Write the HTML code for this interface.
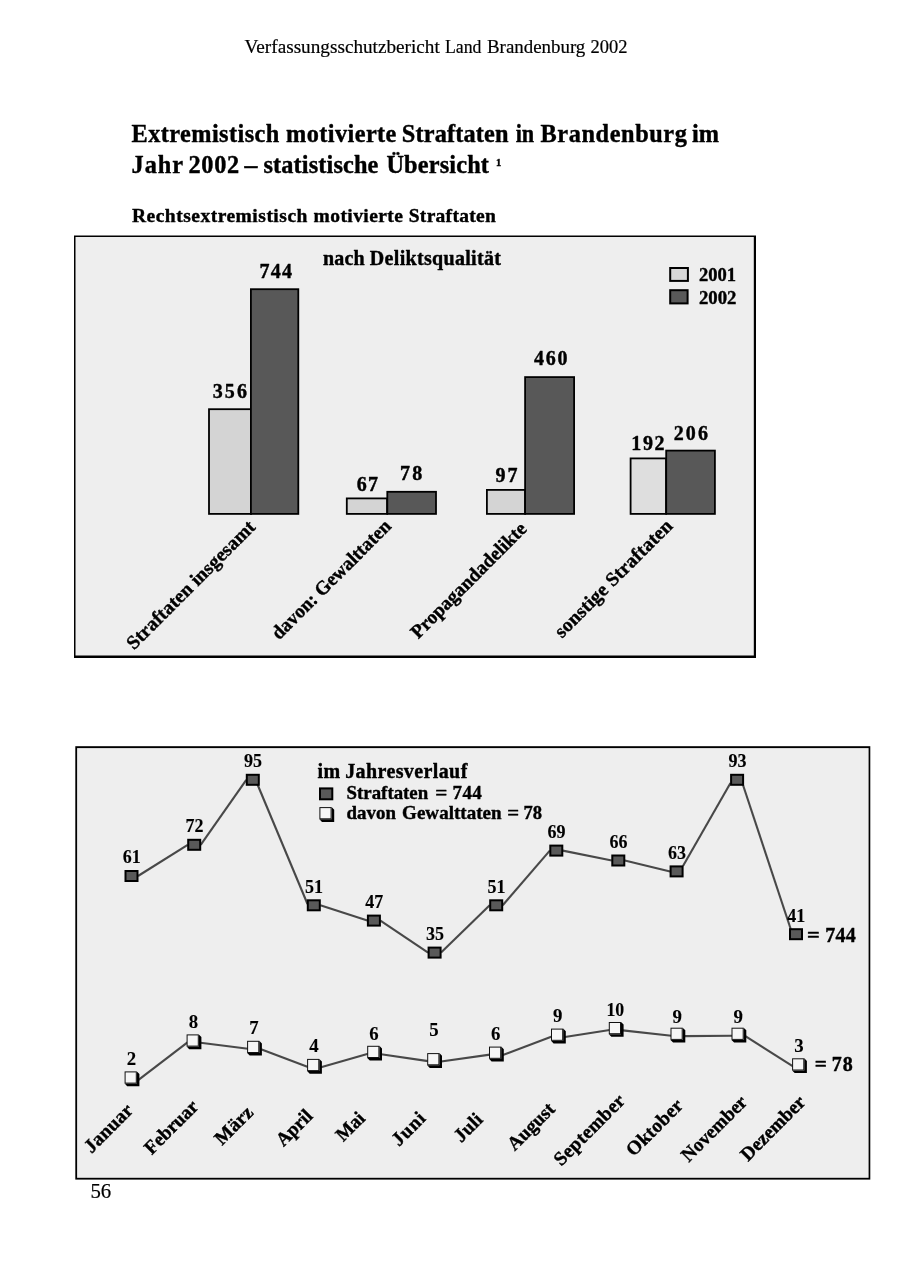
<!DOCTYPE html>
<html lang="de"><head><meta charset="utf-8"><title>Verfassungsschutzbericht Land Brandenburg 2002</title>
<style>html,body{margin:0;padding:0;background:#fff}body{width:900px;height:1272px;overflow:hidden}svg{display:block}text{font-family:"Liberation Serif",serif;fill:#000;stroke:#000;stroke-width:.2px}.b{font-weight:bold;stroke:#000;stroke-width:.4px;stroke-linejoin:round}.s{font-weight:bold;stroke:#000;stroke-width:.12px}</style>
</head><body>
<svg width="900" height="1272" viewBox="0 0 900 1272">
<rect width="900" height="1272" fill="#fff"/>
<text x="244.6" y="53" font-size="19.4" textLength="195.2" lengthAdjust="spacingAndGlyphs">Verfassungsschutzbericht</text>
<text x="445.0" y="53" font-size="19.4" textLength="36.5" lengthAdjust="spacingAndGlyphs">Land</text>
<text x="487.0" y="53" font-size="19.4" textLength="98.3" lengthAdjust="spacingAndGlyphs">Brandenburg</text>
<text x="590.6" y="53" font-size="19.4" textLength="37.0" lengthAdjust="spacingAndGlyphs">2002</text>
<text class="b" x="131.5" y="141.5" font-size="24.3" textLength="147.8" lengthAdjust="spacing">Extremistisch</text>
<text class="b" x="286.0" y="141.5" font-size="24.3" textLength="110.4" lengthAdjust="spacing">motivierte</text>
<text class="b" x="401.8" y="141.5" font-size="24.3" textLength="106.6" lengthAdjust="spacing">Straftaten</text>
<text class="b" x="515.7" y="141.5" font-size="24.3" textLength="18.5" lengthAdjust="spacingAndGlyphs">in</text>
<text class="b" x="540.5" y="141.5" font-size="24.3" textLength="146.4" lengthAdjust="spacing">Brandenburg</text>
<text class="b" x="692.0" y="141.5" font-size="24.3" textLength="27.1" lengthAdjust="spacing">im</text>
<text class="b" x="131.6" y="172.5" font-size="24.3" textLength="51.4" lengthAdjust="spacing">Jahr</text>
<text class="b" x="188.4" y="172.5" font-size="24.3" textLength="50.8" lengthAdjust="spacing">2002</text>
<text class="b" x="244.5" y="172.5" font-size="24.3" textLength="12.9" lengthAdjust="spacingAndGlyphs">–</text>
<text class="b" x="263.4" y="172.5" font-size="24.3" textLength="115.0" lengthAdjust="spacing">statistische</text>
<text class="b" x="386.4" y="172.5" font-size="24.3" textLength="102.5" lengthAdjust="spacing">Übersicht</text>
<text class="b" x="496" y="166" font-size="10.5">1</text>
<text class="b" x="131.9" y="221.5" font-size="19.5" textLength="175.5" lengthAdjust="spacing">Rechtsextremistisch</text>
<text class="b" x="313.6" y="221.5" font-size="19.5" textLength="89.3" lengthAdjust="spacing">motivierte</text>
<text class="b" x="408.7" y="221.5" font-size="19.5" textLength="87.1" lengthAdjust="spacing">Straftaten</text>
<rect x="74" y="235.5" width="682" height="422.5" fill="#000"/>
<rect x="75.5" y="237" width="678.3" height="418.5" fill="#eeeeee"/>
<text class="b" x="323.1" y="264.5" font-size="20" textLength="41.5" lengthAdjust="spacing">nach</text>
<text class="b" x="369.8" y="264.5" font-size="20" textLength="131.1" lengthAdjust="spacing">Deliktsqualität</text>
<rect x="209.00" y="409.20" width="42.10" height="104.70" fill="#d4d4d4" stroke="#000" stroke-width="1.8"/>
<rect x="250.90" y="289.20" width="47.40" height="224.70" fill="#585858" stroke="#000" stroke-width="1.8"/>
<rect x="346.80" y="498.40" width="40.30" height="15.50" fill="#d4d4d4" stroke="#000" stroke-width="1.8"/>
<rect x="387.30" y="491.80" width="48.70" height="22.10" fill="#585858" stroke="#000" stroke-width="1.8"/>
<rect x="486.90" y="489.90" width="38.20" height="24.00" fill="#d4d4d4" stroke="#000" stroke-width="1.8"/>
<rect x="525.10" y="377.10" width="49.00" height="136.80" fill="#585858" stroke="#000" stroke-width="1.8"/>
<rect x="630.60" y="458.40" width="35.50" height="55.50" fill="#dedede" stroke="#000" stroke-width="1.8"/>
<rect x="666.20" y="450.60" width="48.70" height="63.30" fill="#585858" stroke="#000" stroke-width="1.8"/>
<text class="b" x="212.7" y="398.2" font-size="20" textLength="34.3" lengthAdjust="spacing">356</text>
<text class="b" x="259.6" y="278" font-size="20" textLength="32.4" lengthAdjust="spacing">744</text>
<text class="b" x="356.8" y="490.9" font-size="20" textLength="21.3" lengthAdjust="spacing">67</text>
<text class="b" x="400.0" y="479.7" font-size="20" textLength="22.2" lengthAdjust="spacing">78</text>
<text class="b" x="495.6" y="481.5" font-size="20" textLength="22.0" lengthAdjust="spacing">97</text>
<text class="b" x="534.1" y="365.2" font-size="20" textLength="33.5" lengthAdjust="spacing">460</text>
<text class="b" x="631.3000000000001" y="449.7" font-size="20" textLength="33.3" lengthAdjust="spacing">192</text>
<text class="b" x="673.8000000000001" y="440" font-size="20" textLength="34.1" lengthAdjust="spacing">206</text>
<rect x="670.2" y="268" width="17.7" height="12.9" fill="#d8d8d8" stroke="#000" stroke-width="2"/>
<rect x="670.2" y="290.2" width="17.4" height="13.2" fill="#595959" stroke="#000" stroke-width="2"/>
<text class="b" x="698.9" y="281.4" font-size="19.3" textLength="37.1" lengthAdjust="spacingAndGlyphs">2001</text>
<text class="b" x="698.9" y="303.9" font-size="19.3" textLength="37.5" lengthAdjust="spacingAndGlyphs">2002</text>
<text class="b" font-size="19.5" textLength="173" lengthAdjust="spacing" transform="translate(134,650.5) rotate(-45)">Straftaten insgesamt</text>
<text class="b" font-size="19.5" textLength="160" lengthAdjust="spacingAndGlyphs" transform="translate(279.1,640.5) rotate(-45)">davon: Gewalttaten</text>
<text class="b" font-size="19.5" textLength="155.1" lengthAdjust="spacingAndGlyphs" transform="translate(418.2,639.6) rotate(-45)">Propagandadelikte</text>
<text class="b" font-size="19.5" textLength="158" lengthAdjust="spacing" transform="translate(562,638.7) rotate(-45)">sonstige Straftaten</text>
<rect x="75.3" y="746.2" width="795" height="433.4" fill="#000"/>
<rect x="77.1" y="748.1" width="791.5" height="429.7" fill="#eeeeee"/>
<line x1="138.0" y1="876" x2="187.7" y2="844.8" stroke="#484848" stroke-width="2.1"/>
<line x1="200.7" y1="844.8" x2="246.3" y2="779.8" stroke="#484848" stroke-width="2.1"/>
<line x1="257.3" y1="784" x2="307.5" y2="904" stroke="#484848" stroke-width="2.1"/>
<line x1="320.3" y1="905.3" x2="367.4" y2="920.6" stroke="#484848" stroke-width="2.1"/>
<line x1="380.4" y1="920.6" x2="428.1" y2="952.6" stroke="#484848" stroke-width="2.1"/>
<line x1="441.1" y1="952.6" x2="489.7" y2="905.3" stroke="#484848" stroke-width="2.1"/>
<line x1="502.7" y1="905.3" x2="549.8" y2="850.6" stroke="#484848" stroke-width="2.1"/>
<line x1="562.8" y1="850.6" x2="611.8" y2="860.5" stroke="#484848" stroke-width="2.1"/>
<line x1="624.8" y1="860.5" x2="670.1" y2="871.4" stroke="#484848" stroke-width="2.1"/>
<line x1="683" y1="866" x2="730.5" y2="783" stroke="#484848" stroke-width="2.1"/>
<line x1="743" y1="785" x2="790.7" y2="929" stroke="#484848" stroke-width="2.1"/>
<rect x="125.5" y="871.0" width="12" height="10" fill="#595959" stroke="#000" stroke-width="2"/>
<text class="s" x="122.8" y="863.3" font-size="19" textLength="18.0" lengthAdjust="spacingAndGlyphs">61</text>
<rect x="188.2" y="839.8" width="12" height="10" fill="#595959" stroke="#000" stroke-width="2"/>
<text class="s" x="185.5" y="832.1" font-size="19" textLength="18.0" lengthAdjust="spacingAndGlyphs">72</text>
<rect x="246.8" y="774.8" width="12" height="10" fill="#595959" stroke="#000" stroke-width="2"/>
<text class="s" x="244.1" y="767.1" font-size="19" textLength="18.0" lengthAdjust="spacingAndGlyphs">95</text>
<rect x="307.8" y="900.3" width="12" height="10" fill="#595959" stroke="#000" stroke-width="2"/>
<text class="s" x="305.1" y="892.6" font-size="19" textLength="18.0" lengthAdjust="spacingAndGlyphs">51</text>
<rect x="367.9" y="915.6" width="12" height="10" fill="#595959" stroke="#000" stroke-width="2"/>
<text class="s" x="365.2" y="907.9" font-size="19" textLength="18.0" lengthAdjust="spacingAndGlyphs">47</text>
<rect x="428.6" y="947.6" width="12" height="10" fill="#595959" stroke="#000" stroke-width="2"/>
<text class="s" x="425.9" y="939.9" font-size="19" textLength="18.0" lengthAdjust="spacingAndGlyphs">35</text>
<rect x="490.2" y="900.3" width="12" height="10" fill="#595959" stroke="#000" stroke-width="2"/>
<text class="s" x="487.5" y="892.6" font-size="19" textLength="18.0" lengthAdjust="spacingAndGlyphs">51</text>
<rect x="550.3" y="845.6" width="12" height="10" fill="#595959" stroke="#000" stroke-width="2"/>
<text class="s" x="547.6" y="837.9" font-size="19" textLength="18.0" lengthAdjust="spacingAndGlyphs">69</text>
<rect x="612.3" y="855.5" width="12" height="10" fill="#595959" stroke="#000" stroke-width="2"/>
<text class="s" x="609.6" y="847.8" font-size="19" textLength="18.0" lengthAdjust="spacingAndGlyphs">66</text>
<rect x="670.6" y="866.4" width="12" height="10" fill="#595959" stroke="#000" stroke-width="2"/>
<text class="s" x="667.9" y="858.7" font-size="19" textLength="18.0" lengthAdjust="spacingAndGlyphs">63</text>
<rect x="731.1" y="774.8" width="12" height="10" fill="#595959" stroke="#000" stroke-width="2"/>
<text class="s" x="728.4" y="767.1" font-size="19" textLength="18.0" lengthAdjust="spacingAndGlyphs">93</text>
<rect x="790.0" y="929.2" width="12" height="10" fill="#595959" stroke="#000" stroke-width="2"/>
<text class="s" x="787.3" y="921.5" font-size="19" textLength="18.0" lengthAdjust="spacingAndGlyphs">41</text>
<text class="b" x="807.0" y="942" font-size="20" textLength="12.8" lengthAdjust="spacingAndGlyphs">=</text>
<text class="b" x="825.2" y="942" font-size="20" textLength="30.5" lengthAdjust="spacing">744</text>
<line x1="138.5" y1="1079.8" x2="187.5" y2="1042.3999999999999" stroke="#484848" stroke-width="2.1"/>
<line x1="200.5" y1="1042.8" x2="248.0" y2="1048.8" stroke="#484848" stroke-width="2.1"/>
<line x1="261.0" y1="1049.2" x2="308.0" y2="1066.8999999999999" stroke="#484848" stroke-width="2.1"/>
<line x1="321.0" y1="1067.3" x2="368.1" y2="1053.8" stroke="#484848" stroke-width="2.1"/>
<line x1="381.1" y1="1054.2" x2="428.1" y2="1061.1" stroke="#484848" stroke-width="2.1"/>
<line x1="441.1" y1="1061.5" x2="489.9" y2="1054.6" stroke="#484848" stroke-width="2.1"/>
<line x1="502.9" y1="1055.0" x2="551.9" y2="1036.6" stroke="#484848" stroke-width="2.1"/>
<line x1="564.9" y1="1037.0" x2="609.7" y2="1030.0" stroke="#484848" stroke-width="2.1"/>
<line x1="622.7" y1="1030.4" x2="671.4" y2="1035.6999999999998" stroke="#484848" stroke-width="2.1"/>
<line x1="684.4" y1="1036.1" x2="732.4" y2="1035.6999999999998" stroke="#484848" stroke-width="2.1"/>
<line x1="745.4" y1="1036.1" x2="793.0" y2="1066.3" stroke="#484848" stroke-width="2.1"/>
<polygon points="136.8,1071.4 139.4,1074.0 139.4,1086.2 127.2,1086.2 124.6,1083.6 136.8,1083.6" fill="#000"/>
<rect x="125.1" y="1071.9" width="11.2" height="11.2" fill="#f6f6f6" stroke="#111" stroke-width="1"/>
<text class="s" x="126.7" y="1064.5" font-size="19" textLength="9.4" lengthAdjust="spacingAndGlyphs">2</text>
<polygon points="198.8,1034.4 201.4,1037.0 201.4,1049.2 189.2,1049.2 186.6,1046.6 198.8,1046.6" fill="#000"/>
<rect x="187.1" y="1034.9" width="11.2" height="11.2" fill="#f6f6f6" stroke="#111" stroke-width="1"/>
<text class="s" x="188.7" y="1028.0" font-size="19" textLength="9.4" lengthAdjust="spacingAndGlyphs">8</text>
<polygon points="259.3,1040.8 261.9,1043.4 261.9,1055.6 249.7,1055.6 247.1,1053.0 259.3,1053.0" fill="#000"/>
<rect x="247.6" y="1041.3" width="11.2" height="11.2" fill="#f6f6f6" stroke="#111" stroke-width="1"/>
<text class="s" x="249.2" y="1034.0" font-size="19" textLength="9.4" lengthAdjust="spacingAndGlyphs">7</text>
<polygon points="319.3,1058.9 321.9,1061.5 321.9,1073.7 309.7,1073.7 307.1,1071.1 319.3,1071.1" fill="#000"/>
<rect x="307.6" y="1059.4" width="11.2" height="11.2" fill="#f6f6f6" stroke="#111" stroke-width="1"/>
<text class="s" x="309.2" y="1052.0" font-size="19" textLength="9.4" lengthAdjust="spacingAndGlyphs">4</text>
<polygon points="379.4,1045.8 382.0,1048.4 382.0,1060.6 369.8,1060.6 367.2,1058.0 379.4,1058.0" fill="#000"/>
<rect x="367.7" y="1046.3" width="11.2" height="11.2" fill="#f6f6f6" stroke="#111" stroke-width="1"/>
<text class="s" x="369.3" y="1039.6" font-size="19" textLength="9.4" lengthAdjust="spacingAndGlyphs">6</text>
<polygon points="439.4,1053.1 442.0,1055.7 442.0,1067.9 429.8,1067.9 427.2,1065.3 439.4,1065.3" fill="#000"/>
<rect x="427.7" y="1053.6" width="11.2" height="11.2" fill="#f6f6f6" stroke="#111" stroke-width="1"/>
<text class="s" x="429.3" y="1035.6" font-size="19" textLength="9.4" lengthAdjust="spacingAndGlyphs">5</text>
<polygon points="501.2,1046.6 503.8,1049.2 503.8,1061.4 491.6,1061.4 489.0,1058.8 501.2,1058.8" fill="#000"/>
<rect x="489.5" y="1047.1" width="11.2" height="11.2" fill="#f6f6f6" stroke="#111" stroke-width="1"/>
<text class="s" x="491.1" y="1040" font-size="19" textLength="9.4" lengthAdjust="spacingAndGlyphs">6</text>
<polygon points="563.2,1028.6 565.8,1031.2 565.8,1043.4 553.6,1043.4 551.0,1040.8 563.2,1040.8" fill="#000"/>
<rect x="551.5" y="1029.1" width="11.2" height="11.2" fill="#f6f6f6" stroke="#111" stroke-width="1"/>
<text class="s" x="553.1" y="1022.4" font-size="19" textLength="9.4" lengthAdjust="spacingAndGlyphs">9</text>
<polygon points="621.0,1022.0 623.6,1024.6 623.6,1036.8 611.4,1036.8 608.8,1034.2 621.0,1034.2" fill="#000"/>
<rect x="609.3" y="1022.5" width="11.2" height="11.2" fill="#f6f6f6" stroke="#111" stroke-width="1"/>
<text class="s" x="606.4" y="1016.0" font-size="19" textLength="17.8" lengthAdjust="spacingAndGlyphs">10</text>
<polygon points="682.7,1027.7 685.3,1030.3 685.3,1042.5 673.1,1042.5 670.5,1039.9 682.7,1039.9" fill="#000"/>
<rect x="671.0" y="1028.2" width="11.2" height="11.2" fill="#f6f6f6" stroke="#111" stroke-width="1"/>
<text class="s" x="672.6" y="1023.1" font-size="19" textLength="9.4" lengthAdjust="spacingAndGlyphs">9</text>
<polygon points="743.7,1027.7 746.3,1030.3 746.3,1042.5 734.1,1042.5 731.5,1039.9 743.7,1039.9" fill="#000"/>
<rect x="732.0" y="1028.2" width="11.2" height="11.2" fill="#f6f6f6" stroke="#111" stroke-width="1"/>
<text class="s" x="733.6" y="1023.1" font-size="19" textLength="9.4" lengthAdjust="spacingAndGlyphs">9</text>
<polygon points="804.3,1058.3 806.9,1060.9 806.9,1073.1 794.7,1073.1 792.1,1070.5 804.3,1070.5" fill="#000"/>
<rect x="792.6" y="1058.8" width="11.2" height="11.2" fill="#f6f6f6" stroke="#111" stroke-width="1"/>
<text class="s" x="794.2" y="1052.1" font-size="19" textLength="9.4" lengthAdjust="spacingAndGlyphs">3</text>
<text class="b" x="814.7" y="1071.4" font-size="20" textLength="12.1" lengthAdjust="spacingAndGlyphs">=</text>
<text class="b" x="831.8" y="1071.4" font-size="20" textLength="21.0" lengthAdjust="spacing">78</text>
<text class="b" x="317.6" y="777.5" font-size="20" textLength="22.5" lengthAdjust="spacing">im</text>
<text class="b" x="345.2" y="777.5" font-size="20" textLength="122.1" lengthAdjust="spacing">Jahresverlauf</text>
<rect x="320" y="788.4" width="12.3" height="10.9" fill="#595959" stroke="#000" stroke-width="2"/>
<polygon points="331.6,807.1 334.2,809.7 334.2,821.9 322.0,821.9 319.4,819.3 331.6,819.3" fill="#000"/>
<rect x="319.9" y="807.6" width="11.2" height="11.2" fill="#f6f6f6" stroke="#111" stroke-width="1"/>
<text class="b" x="346.6" y="799" font-size="19" textLength="81.6" lengthAdjust="spacingAndGlyphs">Straftaten</text>
<text class="b" x="435.2" y="799" font-size="19" textLength="12.1" lengthAdjust="spacingAndGlyphs">=</text>
<text class="b" x="452.6" y="799" font-size="19" textLength="29.1" lengthAdjust="spacing">744</text>
<text class="b" x="346.6" y="819" font-size="19" textLength="49.3" lengthAdjust="spacingAndGlyphs">davon</text>
<text class="b" x="402.1" y="819" font-size="19" textLength="99.5" lengthAdjust="spacing">Gewalttaten</text>
<text class="b" x="507.3" y="819" font-size="19" textLength="11.9" lengthAdjust="spacingAndGlyphs">=</text>
<text class="b" x="523.5" y="819" font-size="19" textLength="18.6" lengthAdjust="spacingAndGlyphs">78</text>
<text class="b" font-size="19.4" textLength="60.5" lengthAdjust="spacing" transform="translate(91.4,1154.1) rotate(-45)">Januar</text>
<text class="b" font-size="19.4" textLength="67.5" lengthAdjust="spacingAndGlyphs" transform="translate(151.7,1155.5) rotate(-45)">Februar</text>
<text class="b" font-size="19.4" textLength="45.6" lengthAdjust="spacing" transform="translate(222.0,1145.9) rotate(-45)">März</text>
<text class="b" font-size="19.4" textLength="42.6" lengthAdjust="spacingAndGlyphs" transform="translate(283.5,1147.3) rotate(-45)">April</text>
<text class="b" font-size="19.4" textLength="32.2" lengthAdjust="spacingAndGlyphs" transform="translate(343.3,1142.3) rotate(-45)">Mai</text>
<text class="b" font-size="19.4" textLength="39" lengthAdjust="spacing" transform="translate(399.1,1147.1) rotate(-45)">Juni</text>
<text class="b" font-size="19.4" textLength="32" lengthAdjust="spacing" transform="translate(461.2,1143.3) rotate(-45)">Juli</text>
<text class="b" font-size="19.4" textLength="58.2" lengthAdjust="spacingAndGlyphs" transform="translate(514.8,1151.4) rotate(-45)">August</text>
<text class="b" font-size="19.4" textLength="91.7" lengthAdjust="spacing" transform="translate(561.2,1166.8) rotate(-45)">September</text>
<text class="b" font-size="19.4" textLength="71.5" lengthAdjust="spacing" transform="translate(633.6,1157.3) rotate(-45)">Oktober</text>
<text class="b" font-size="19.4" textLength="84.1" lengthAdjust="spacingAndGlyphs" transform="translate(688.8,1162.7) rotate(-45)">November</text>
<text class="b" font-size="19.4" textLength="83" lengthAdjust="spacingAndGlyphs" transform="translate(747.9,1161.9) rotate(-45)">Dezember</text>
<text x="90.4" y="1198" font-size="20.8">56</text>
</svg></body></html>
